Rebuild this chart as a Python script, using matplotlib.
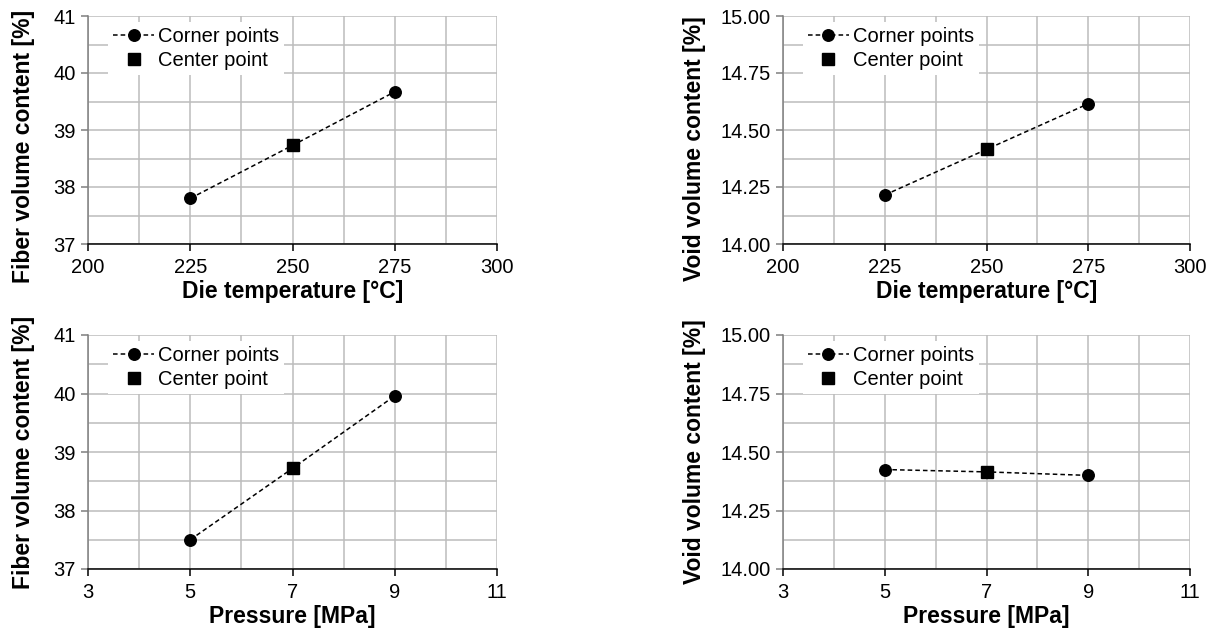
import numpy as np
import matplotlib.pyplot as plt
from matplotlib.lines import Line2D
from matplotlib.ticker import MultipleLocator

plt.rcParams['font.family'] = ['Liberation Sans', 'DejaVu Sans']

# %% data

temp_x = [225, 250, 275]
fiber_temp = [37.80, 38.73, 39.67]
void_temp = [14.215, 14.415, 14.615]

press_x = [5, 7, 9]
fiber_press = [37.50, 38.72, 39.96]
void_press = [14.425, 14.415, 14.400]

temp_ticks = [200, 225, 250, 275, 300]
press_ticks = [3, 5, 7, 9, 11]
fiber_ticks = [37, 38, 39, 40, 41]
void_ticks = [14.00, 14.25, 14.50, 14.75, 15.00]

grid_col = '#bcbcbc'
spine_col = '#7f7f7f'


def draw(ax, x, y, xticks, yticks, xlabel, ylabel, yfmt, lab_x, lab_y):
    # corner points are first and last, center is the middle one
    ax.plot(x, y, color='black', linestyle='--', dashes=(3, 2),
            linewidth=1.1, zorder=3)
    ax.plot([x[0], x[2]], [y[0], y[2]], linestyle='none', marker='o',
            markersize=8.3, color='black', zorder=4)
    ax.plot([x[1]], [y[1]], linestyle='none', marker='s',
            markersize=8.8, color='black', zorder=4)

    ax.set_xlim(xticks[0], xticks[-1])
    ax.set_ylim(yticks[0], yticks[-1])
    ax.set_xticks(xticks)
    ax.set_yticks(yticks)
    ax.set_yticklabels([yfmt.format(v) for v in yticks])
    ax.xaxis.set_minor_locator(MultipleLocator((xticks[1] - xticks[0]) / 2))
    ax.yaxis.set_minor_locator(MultipleLocator((yticks[1] - yticks[0]) / 2))
    ax.grid(True, which='both', color=grid_col, linewidth=1.1, zorder=0)
    ax.set_axisbelow(True)

    for s in ['top', 'right']:
        ax.spines[s].set_visible(False)
    ax.spines['bottom'].set_color('black')
    ax.spines['bottom'].set_linewidth(1.1)
    ax.spines['left'].set_color(spine_col)
    ax.spines['left'].set_linewidth(1.1)

    ax.tick_params(axis='both', which='major', labelsize=14.5, length=5,
                   direction='out', width=1.1, colors='black')
    ax.tick_params(axis='x', which='major', pad=5)
    ax.tick_params(axis='y', which='major', color=spine_col, pad=4)
    ax.tick_params(which='minor', length=0)

    ax.set_xlabel(xlabel, fontsize=16.5, fontweight='bold', labelpad=2)
    ax.set_ylabel(ylabel, fontsize=16.5, fontweight='bold')
    ax.yaxis.set_label_coords(lab_x, lab_y)

    handles = [
        Line2D([], [], color='black', linestyle='--', dashes=(3, 2),
               linewidth=1.1, marker='o', markersize=8.3),
        Line2D([], [], color='black', linestyle='none', marker='s',
               markersize=8.8),
    ]
    leg = ax.legend(handles, ['Corner points', 'Center point'],
                    loc='upper left', bbox_to_anchor=(0.04, 0.99),
                    fontsize=14.5, frameon=True, fancybox=False,
                    handlelength=2.0, handletextpad=0.2, borderpad=0.25,
                    labelspacing=0.25, borderaxespad=0.2)
    leg.get_frame().set_facecolor('white')
    leg.get_frame().set_edgecolor('none')
    leg.get_frame().set_alpha(1)


fig = plt.figure(figsize=(12.15, 6.28), dpi=100)

ax1 = fig.add_axes([88 / 1215, 1 - 244 / 628, 409 / 1215, 228 / 628])
ax2 = fig.add_axes([783 / 1215, 1 - 244 / 628, 407 / 1215, 228 / 628])
ax3 = fig.add_axes([88 / 1215, 1 - 569 / 628, 409 / 1215, 234 / 628])
ax4 = fig.add_axes([783 / 1215, 1 - 569 / 628, 407 / 1215, 234 / 628])

draw(ax1, temp_x, fiber_temp, temp_ticks, fiber_ticks,
     'Die temperature [°C]', 'Fiber volume content [%]', '{:.0f}',
     -0.13, 0.43)
draw(ax2, temp_x, void_temp, temp_ticks, void_ticks,
     'Die temperature [°C]', 'Void volume content [%]', '{:.2f}',
     -0.19, 0.42)
draw(ax3, press_x, fiber_press, press_ticks, fiber_ticks,
     'Pressure [MPa]', 'Fiber volume content [%]', '{:.0f}',
     -0.13, 0.5)
draw(ax4, press_x, void_press, press_ticks, void_ticks,
     'Pressure [MPa]', 'Void volume content [%]', '{:.2f}',
     -0.19, 0.5)

fig.savefig('out.png', dpi=100)
